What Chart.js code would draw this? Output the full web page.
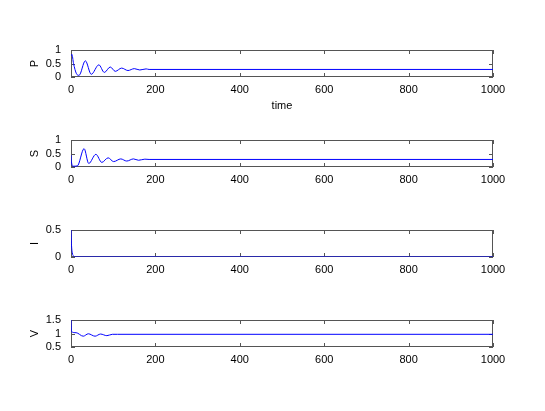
<!DOCTYPE html>
<html>
<head>
<meta charset="utf-8">
<script src="https://cdn.jsdelivr.net/npm/chart.js@4"></script>
<style>
  body { margin: 0; background: #fff; }
  #wrap { position: relative; width: 545px; height: 411px; overflow: hidden; }
  canvas { position: absolute; left: 0; }
</style>
</head>
<body>
<div id="wrap">
  <canvas id="cP" width="545" height="83" style="top:32px"></canvas>
  <canvas id="cS" width="545" height="75" style="top:122px"></canvas>
  <canvas id="cI" width="545" height="75" style="top:212px"></canvas>
  <canvas id="cV" width="545" height="75" style="top:302px"></canvas>
</div>
<script>
// datos
const xTicks = [0, 200, 400, 600, 800, 1000];
const ticksPS = [0, 0.5, 1];
const ticksI = [0, 0.5];
const ticksV = [0.5, 1, 1.5];

const timeP = [0, 2, 6, 13, 19, 34, 48, 66, 79, 93, 105, 120, 135, 150, 163, 178, 185, 1000];
const valP = [0.78, 0.84, 0.5, 0.12, 0.06, 0.6, 0.1, 0.45, 0.17, 0.37, 0.21, 0.33, 0.24, 0.31, 0.26, 0.3, 0.28, 0.28];

const timeS = [0, 1, 5, 15, 31, 42, 59, 73, 88, 101, 118, 132, 148, 160, 175, 185, 1000];
const valS = [0.44, 0.2, 0.03, 0.04, 0.68, 0.13, 0.47, 0.17, 0.34, 0.2, 0.3, 0.22, 0.3, 0.25, 0.29, 0.28, 0.28];

const timeI = [0, 1, 3, 6, 10, 1000];
const valI = [0.5, 0.25, 0.08, 0.02, 0, 0];

const timeV = [0, 1, 12, 29, 41, 57, 70, 85, 98, 110, 1000];
const valV = [1.5, 1.07, 1.03, 0.9, 0.99, 0.9, 0.98, 0.92, 0.97, 0.97, 0.97];

const FONT = { family: '"Liberation Sans", Arial, sans-serif', size: 11 };

// caja y marcas hacia dentro, estilo MATLAB
const boxPlugin = {
  id: 'box',
  beforeDatasetsDraw(chart) {
    const { ctx, chartArea: a, scales: { x, y } } = chart;
    ctx.save();
    ctx.strokeStyle = '#555';
    ctx.lineWidth = 1;
    ctx.strokeRect(Math.round(a.left) + 0.5, Math.round(a.top) + 0.5,
      Math.round(a.width) - 1, Math.round(a.height) - 1);
    ctx.beginPath();
    x.ticks.forEach(t => {
      const px = Math.round(x.getPixelForValue(t.value)) + 0.5;
      ctx.moveTo(px, a.bottom); ctx.lineTo(px, a.bottom - 4);
      ctx.moveTo(px, a.top); ctx.lineTo(px, a.top + 4);
    });
    y.ticks.forEach(t => {
      const py = Math.round(y.getPixelForValue(t.value)) + 0.5;
      ctx.moveTo(a.left, py); ctx.lineTo(a.left + 4, py);
      ctx.moveTo(a.right, py); ctx.lineTo(a.right - 4, py);
    });
    ctx.stroke();
    ctx.restore();
  }
};

function makePlot(id, times, values, label, yTicks, xTitle) {
  const ctx = document.getElementById(id).getContext('2d');
  return new Chart(ctx, {
    type: 'line',
    data: {
      datasets: [{
        data: times.map((t, i) => ({ x: t, y: values[i] })),
        borderColor: '#0000ff',
        borderWidth: 1,
        pointRadius: 0,
        cubicInterpolationMode: 'monotone',
        fill: false
      }]
    },
    options: {
      responsive: false,
      animation: false,
      devicePixelRatio: 1,
      layout: { padding: { left: 21, right: 52, top: 18, bottom: 0 } },
      plugins: { legend: { display: false }, tooltip: { enabled: false } },
      scales: {
        x: {
          type: 'linear',
          min: 0, max: 1000,
          afterBuildTicks: s => { s.ticks = xTicks.map(v => ({ value: v })); },
          afterFit: s => { s.height = xTitle ? 38 : 30; },
          grid: { display: false, drawTicks: false },
          border: { display: false },
          ticks: { color: '#000', font: FONT, padding: 6, maxRotation: 0, autoSkip: false, callback: v => String(v) },
          title: { display: !!xTitle, text: xTitle || '', color: '#000', font: FONT, padding: { top: 0, bottom: 2 } }
        },
        y: {
          min: yTicks[0], max: yTicks[yTicks.length - 1],
          afterBuildTicks: s => { s.ticks = yTicks.map(v => ({ value: v })); },
          afterFit: s => { s.width = 50; },
          grid: { display: false, drawTicks: false },
          border: { display: false },
          ticks: { color: '#000', font: FONT, padding: 10, autoSkip: false, callback: v => String(v) },
          title: { display: true, text: label, color: '#000', font: FONT, padding: { top: 7, bottom: 0 } }
        }
      }
    },
    plugins: [boxPlugin]
  });
}

makePlot('cP', timeP, valP, 'P', ticksPS, 'time');
makePlot('cS', timeS, valS, 'S', ticksPS);
makePlot('cI', timeI, valI, 'I', ticksI);
makePlot('cV', timeV, valV, 'V', ticksV);
</script>
</body>
</html>
